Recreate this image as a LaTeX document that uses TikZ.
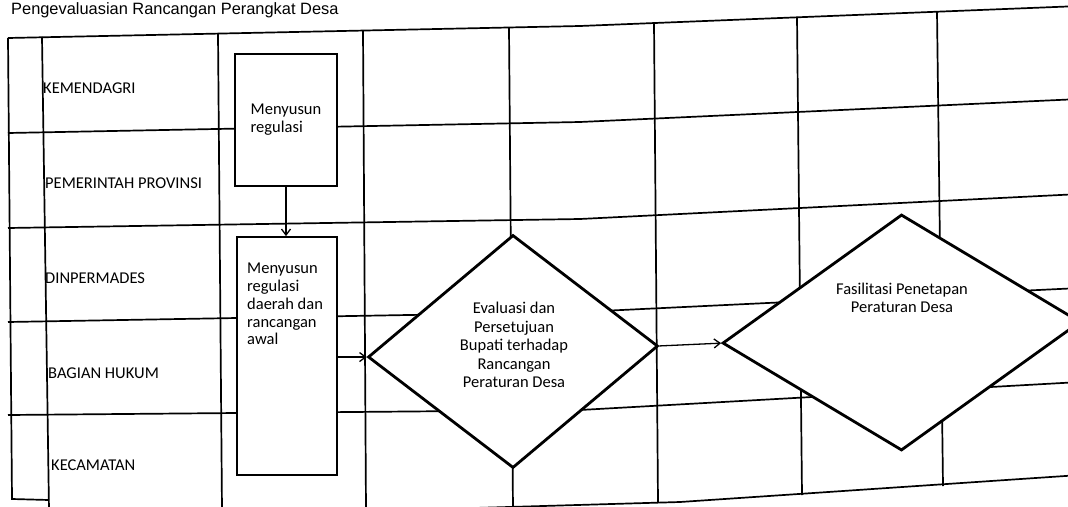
\documentclass[tikz,border=0pt]{standalone}
\usepackage{fontspec}
\setmainfont{Carlito}
\newfontfamily\judulfont{Liberation Sans}
\usetikzlibrary{shapes.geometric, arrows.meta, calc}

\tikzset{
  garis/.style={line width=1.7pt},
  kotak/.style={draw, line width=1.8pt, fill=white, align=left, font=\fontsize{16.5}{17.8}\selectfont},
  isikotak/.style={anchor=north west, inner sep=0pt, align=left, font=\fontsize{16.5}{17.8}\selectfont},
  keputusan/.style={draw, shape=diamond, line width=2.8pt, fill=white, inner sep=0pt},
  isiputusan/.style={align=center, inner sep=0pt, font=\fontsize{16.5}{18.5}\selectfont},
  lajur/.style={anchor=west, inner sep=0pt, font=\fontsize{16.5}{18}\selectfont},
  alir/.style={line width=1.3pt, -{Straight Barb[length=6pt,width=9pt]}},
}

\begin{document}
\begin{tikzpicture}[x=1pt,y=-1pt]
\useasboundingbox (0,0) rectangle (1068,506);
\clip (0,0) rectangle (1068,506);
\node[anchor=base west, inner sep=0pt, font={\judulfont\fontsize{16.4}{19}\selectfont}] (judul) at (11,14) {Pengevaluasian Rancangan Perangkat Desa};
\foreach \ya/\yb/\yc in {38/26/6, 133/122/99, 228/219/194, 322/312/288, 415/410/382}
  \draw[garis] (8,\ya) -- (580,\yb) -- (1080,\yc);
\draw[garis] (8,38) -- (12,499) -- (49,500);
\draw[garis] (42,37) -- (49,510);
\draw[garis] (218,34) -- (222,510);
\draw[garis] (363,31) -- (366,510);
\draw[garis] (509,28) -- (513,510);
\draw[garis] (654,23) -- (658,502);
\draw[garis] (797,17) -- (802,495);
\draw[garis] (937,12) -- (943,486);
\draw[garis] (440,509) -- (680,502) -- (1080,475);
\node[lajur] (kemendagri) at (43,88) {KEMENDAGRI};
\node[lajur] (provinsi) at (45,183) {PEMERINTAH PROVINSI};
\node[lajur] (dinpermades) at (45,278) {DINPERMADES};
\node[lajur] (hukum) at (48,373) {BAGIAN HUKUM};
\node[lajur] (kecamatan) at (51,465) {KECAMATAN};
\node[kotak, minimum width=102, minimum height=132] (regulasi) at (286,120) {Menyusun\\regulasi};
\node[kotak, minimum width=100, minimum height=238] (regdaerah) at (287,356) {};
\node[isikotak] (regdaerahisi) at (247,263) {Menyusun\\regulasi\\daerah dan\\rancangan\\awal};
\node[keputusan, yslant=0.038, minimum width=290, minimum height=233] (evaluasi) at (513,351.5) {};
\node[isiputusan] (evaluasiisi) at (514,345) {Evaluasi dan\\Persetujuan\\Bupati terhadap\\Rancangan\\Peraturan Desa};
\node[keputusan, yslant=0.059, minimum width=358, minimum height=236] (fasilitasi) at (901.5,332.5) {};
\node[isiputusan] (fasilitasiisi) at (902,298) {Fasilitasi Penetapan\\Peraturan Desa};
\draw[alir] (regulasi.south) -- (regulasi.south |- regdaerah.north);
\draw[alir] (regdaerah.east |- evaluasi.west) -- (evaluasi.west);
\draw[alir] (evaluasi.east) -- (fasilitasi.west);
\end{tikzpicture}
\end{document}
